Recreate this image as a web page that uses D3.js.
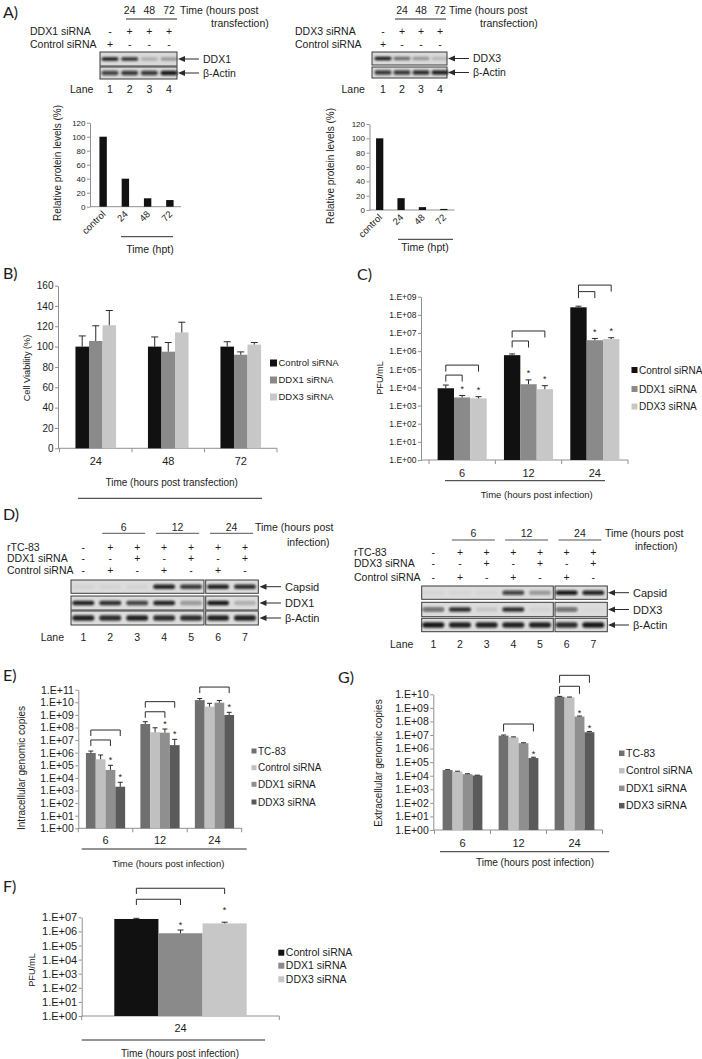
<!DOCTYPE html>
<html><head><meta charset="utf-8">
<script src="https://cdn.jsdelivr.net/npm/d3@7"></script>
<style>
html,body{margin:0;padding:0;background:#fff;}
svg{display:block;}
</style></head><body>
<svg id="fig" width="702" height="1059"></svg>
<script>
// ================= DATA =================
// Panel A
const aCategories = ["control","24","48","72"];
const aTimes = ["24","48","72"];
const aDDX1Levels = [100, 40, 12, 9.5];
const aDDX3Levels = [100, 16.5, 4, 1.5];
const aYTicks = [0,20,40,60,80,100,120];
const aDDX1siRNA = ["-","+","+","+"];
const aControl1 = ["+","-","-","-"];
const aDDX3siRNA = ["-","+","+","+"];
const aControl3 = ["+","-","-","-"];
const aDDX1Bands = [0.95,0.85,0.2,0.3];
const aActin1Bands = [0.75,0.8,0.8,0.95];
const aDDX3Bands = [0.95,0.5,0.3,0.15];
const aActin3Bands = [0.8,0.8,0.85,0.9];
const aLanes = ["1","2","3","4"];

// Panel B
const bGroups = ["24","48","72"];
const siSeries = ["Control siRNA","DDX1 siRNA","DDX3 siRNA"];
const bControl = [100,100,100];
const bDDX1 = [105.5,95,92];
const bDDX3 = [121,114,102];
const bControlErr = [10.5,9.5,4.8];
const bDDX1Err = [15,9,2.8];
const bDDX3Err = [14.5,10,2];
const bYTicks = [0,20,40,60,80,100,120,140,160];

// Panel C
const cGroups = ["6","12","24"];
const cControl = [9e3,6e5,2.6e8];
const cDDX1 = [2.8e3,1.5e4,4e6];
const cDDX3 = [2.5e3,8e3,4.6e6];
const cControlErrTop = [1.35e4,7e5,3e8];
const cDDX1ErrTop = [3.6e3,2.6e4,5e6];
const cDDX3ErrTop = [3.1e3,1.25e4,5.5e6];
const cStars = [[0,0,0],[1,1,1],[1,1,1]];
const cYTicks = [1e0,1e1,1e2,1e3,1e4,1e5,1e6,1e7,1e8,1e9];
const cBrackets = [["6",0,2,5.23],["6",0,1,4.68],["12",0,2,7.11],["12",0,1,6.56],["24",0,2,9.64],["24",0,1,9.28]];

// Panel D
const dTimes = ["6","12","24"];
const dRTC83 = ["-","+","+","+","+","+","+"];
const dDDX1siRNA = ["-","-","+","-","+","-","+"];
const dControl1 = ["-","+","-","+","-","+","-"];
const dDDX3siRNA = ["-","-","+","-","+","-","+"];
const dControl3 = ["-","+","-","+","-","+","-"];
const dLanes = ["1","2","3","4","5","6","7"];
const dCapsid1 = [0.04,0.04,0.04,0.9,0.8,0.9,0.85];
const dDDX1Bands = [0.9,0.85,0.75,0.9,0.3,0.95,0.2];
const dActin1 = [0.9,0.85,0.9,0.85,0.85,0.9,0.9];
const dCapsid3 = [0.03,0.03,0.03,0.75,0.3,0.95,0.9];
const dDDX3Bands = [0.55,0.85,0.1,0.85,0.05,0.55,0.02];
const dActin3 = [0.95,0.9,0.9,0.9,0.9,0.85,0.95];

// Panel E
const egSeries = ["TC-83","Control siRNA","DDX1 siRNA","DDX3 siRNA"];
const eGroups = ["6","12","24"];
const eTC83 = [9.5e5,1.9e8,1.5e10];
const eControl = [3e5,4.2e7,4.5e9];
const eDDX1 = [4.3e4,3.9e7,9.3e9];
const eDDX3 = [2e3,4e6,9.8e8];
const eTC83ErrTop = [1.35e6,2.9e8,2e10];
const eControlErrTop = [6.6e5,9.5e7,8.3e9];
const eDDX1ErrTop = [1e5,7.6e7,1.4e10];
const eDDX3ErrTop = [4.5e3,1.15e7,1.6e9];
const eStars = [[0,0,0],[0,0,0],[1,1,0],[1,1,1]];
const eYTicks = [1e0,1e1,1e2,1e3,1e4,1e5,1e6,1e7,1e8,1e9,1e10,1e11];
const eBrackets = [["6",0,3,7.80],["6",0,2,7.01],["12",0,3,10.05],["12",0,2,9.25],["24",0,3,11.21]];

// Panel G
const gGroups = ["6","12","24"];
const gTC83 = [2.6e4,9e6,6.6e9];
const gControl = [2e4,6.8e6,6e9];
const gDDX1 = [1.3e4,2.5e6,2.3e8];
const gDDX3 = [1.05e4,2e5,1.6e7];
const gTC83ErrTop = [2.8e4,1e7,7e9];
const gControlErrTop = [2.15e4,7.3e6,6.3e9];
const gDDX1ErrTop = [1.4e4,2.7e6,2.5e8];
const gDDX3ErrTop = [1.1e4,2.3e5,1.8e7];
const gStars = [[0,0,0],[0,0,0],[0,0,1],[0,1,1]];
const gYTicks = [1e0,1e1,1e2,1e3,1e4,1e5,1e6,1e7,1e8,1e9,1e10];
const gBrackets = [["12",0,3,7.81],["24",0,3,11.40],["24",0,2,10.59]];

// Panel F
const fGroups = ["24"];
const fControl = [7.6e6];
const fDDX1 = [7.4e5];
const fDDX3 = [3.7e6];
const fControlErrTop = [8.5e6];
const fDDX1ErrTop = [1.25e6];
const fDDX3ErrTop = [4.5e6];
const fStars = [[0],[1],[1]];
const fYTicks = [1e0,1e1,1e2,1e3,1e4,1e5,1e6,1e7];
const fBrackets = [["24",0,2,9.06],["24",0,1,8.28]];

// ================= DRAWING =================
const svg = d3.select("#fig");
const FONT = '"Liberation Sans", Arial, Helvetica, sans-serif';
const LETTER = 'Lato, "Open Sans", sans-serif';
const TXT = "#1c1c1c", AXIS = "#909090", INK = "#2b2b2b";
const BLACK = "#111111", MID = "#8a8a8a", LIGHT = "#c7c7c7";
const E_COLORS = ["#6f6f6f","#c0c0c0","#8f8f8f","#5a5a5a"];
const logFmt = d => "1.E+" + String(Math.round(Math.log10(d))).padStart(2,"0");

const defs = svg.append("defs");
defs.append("filter").attr("id","blur").attr("x","-20%").attr("y","-50%").attr("width","140%").attr("height","200%")
  .append("feGaussianBlur").attr("stdDeviation",0.8);

function txt(x,y,s,size,anchor,fam){
  return svg.append("text").attr("x",x).attr("y",y).text(s).attr("font-size",size)
    .attr("text-anchor",anchor||"start").attr("fill",TXT).attr("font-family",fam||FONT);
}
function line(x1,y1,x2,y2,color,w){
  return svg.append("line").attr("x1",x1).attr("y1",y1).attr("x2",x2).attr("y2",y2)
    .attr("stroke",color||INK).attr("stroke-width",w||1);
}

function barPanel(o){
  const g = svg.append("g");
  const x0 = d3.scaleBand().domain(o.groups).range([o.xl,o.xr]).paddingInner(o.pad).paddingOuter(o.pad/2);
  const x1 = d3.scaleBand().domain(d3.range(o.series.length)).range([0,x0.bandwidth()]);
  const y = (o.log ? d3.scaleLog() : d3.scaleLinear()).domain(o.domain).range([o.yb,o.yt]);
  const ax = o.axisX !== undefined ? o.axisX : o.xl;
  const ya = g.append("g").attr("transform",`translate(${ax},0)`)
    .call(d3.axisLeft(y).tickValues(o.ticks).tickFormat(o.fmt).tickSize(3).tickSizeOuter(0).tickPadding(o.tickPad!==undefined?o.tickPad:1.5));
  ya.attr("font-family",FONT).attr("font-size",o.tickFont);
  ya.select(".domain").attr("stroke",AXIS);
  ya.selectAll(".tick line").attr("stroke",AXIS);
  ya.selectAll(".tick text").attr("fill",TXT);
  g.append("line").attr("x1",ax).attr("x2",o.xr).attr("y1",o.yb).attr("y2",o.yb).attr("stroke",AXIS);
  if(o.catTicks){
    const bounds = d3.range(o.groups.length+1).map(k=>o.xl + k*x0.step());
    g.selectAll(null).data(bounds).join("line").attr("x1",d=>d).attr("x2",d=>d)
      .attr("y1",o.yb).attr("y2",o.yb+4).attr("stroke",AXIS);
  }
  const cx = (gr,si)=>x0(gr)+x1(si)+x1.bandwidth()/2;
  o.series.forEach((s,si)=>{
    g.selectAll(null).data(o.groups).join("rect")
      .attr("x",gr=>x0(gr)+x1(si)).attr("width",x1.bandwidth())
      .attr("y",(gr,gi)=>y(o.values[si][gi])).attr("height",(gr,gi)=>o.yb-y(o.values[si][gi]))
      .attr("fill",o.colors[si]);
    if(o.errTops){
      const cap = o.cap;
      g.selectAll(null).data(o.groups).join("path")
        .attr("d",(gr,gi)=>{const xc=cx(gr,si), yt=y(o.errTops[si][gi]), yv=y(o.values[si][gi]);
          return `M${xc},${yv}V${yt}M${xc-cap},${yt}H${xc+cap}`;})
        .attr("stroke",INK).attr("stroke-width",1).attr("fill","none");
    }
    if(o.stars){
      g.selectAll(null).data(o.groups.filter((gr,gi)=>o.stars[si][gi])).join("text")
        .attr("x",gr=>cx(gr,si))
        .attr("y",gr=>y(o.errTops[si][o.groups.indexOf(gr)]) - (Array.isArray(o.starGap)?o.starGap[si]:o.starGap))
        .attr("text-anchor","middle").attr("font-size",o.starFont||9).attr("font-family",FONT).attr("fill",TXT).text("*");
    }
  });
  if(o.brackets){
    g.selectAll(null).data(o.brackets).join("path")
      .attr("d",b=>{const yt=y(o.log?Math.pow(10,b[3]):b[3]); const xa=cx(b[0],b[1]), xb=cx(b[0],b[2]);
        return `M${xa},${yt+o.drop}V${yt}H${xb}V${yt+o.drop}`;})
      .attr("stroke",INK).attr("stroke-width",1).attr("fill","none");
  }
  // category labels
  if(o.rotLabels){
    g.selectAll(null).data(o.groups).join("text")
      .attr("transform",gr=>`translate(${x0(gr)+x0.bandwidth()/2+3},${o.yb+o.xlabOff}) rotate(-45)`)
      .attr("text-anchor","end").attr("font-size",o.xlabFont).attr("font-family",FONT).attr("fill",TXT).text(d=>d);
  } else {
    g.selectAll(null).data(o.groups).join("text")
      .attr("x",gr=>x0(gr)+x0.bandwidth()/2).attr("y",o.yb+o.xlabOff)
      .attr("text-anchor","middle").attr("font-size",o.xlabFont).attr("font-family",FONT).attr("fill",TXT).text(d=>d);
  }
  if(o.ytitle){
    g.append("text").attr("transform",`translate(${o.ytitle.x},${o.ytitle.y}) rotate(-90)`)
      .attr("dy","0.35em").attr("text-anchor","middle").attr("font-size",o.ytitle.font)
      .attr("font-family",FONT).attr("fill",TXT).text(o.ytitle.text);
  }
  if(o.xtitle){
    g.append("text").attr("x",o.xtitle.x).attr("y",o.xtitle.y).attr("text-anchor","middle")
      .attr("font-size",o.xtitle.font).attr("font-family",FONT).attr("fill",TXT).text(o.xtitle.text);
    if(o.xtitle.line){const L=o.xtitle.line; g.append("line").attr("x1",L[0]).attr("x2",L[1]).attr("y1",L[2]).attr("y2",L[2]).attr("stroke",INK);}
  }
  if(o.legend){
    const L=o.legend;
    o.series.forEach((s,si)=>{
      g.append("rect").attr("x",L.x).attr("y",L.ys[si]-L.sq/2).attr("width",L.sq).attr("height",L.sq).attr("fill",o.colors[si]);
      g.append("text").attr("x",L.x+L.sq+1.5).attr("y",L.ys[si]+0.35*L.font).attr("font-size",L.font)
        .attr("font-family",FONT).attr("fill",TXT).text(s);
    });
  }
  return {x0,x1,y};
}

function blot(lx, segs, rows, bandSets, bw, bhs, bg){
  rows.forEach((r,ri)=>{
    segs.forEach(s=>svg.append("rect").attr("x",s[0]).attr("y",r[0]).attr("width",s[1]-s[0]).attr("height",r[1]-r[0])
      .attr("fill",bg||"#d9d9d9").attr("stroke","#3a3a3a").attr("stroke-width",1));
    const cy=(r[0]+r[1])/2, bh=bhs[ri];
    svg.append("g").attr("filter","url(#blur)").selectAll("rect").data(bandSets[ri]).join("rect")
      .attr("x",(d,i)=>lx(i)-bw/2).attr("y",cy-bh/2).attr("width",bw).attr("height",bh).attr("rx",bh/2)
      .attr("fill","#0c0c0c").attr("opacity",d=>d);
  });
}
function arrow(tip, tail, y){
  line(tail,y,tip+5,y,INK,1);
  svg.append("path").attr("d",`M${tip},${y}L${tip+7},${y-3}L${tip+7},${y+3}Z`).attr("fill",INK);
}
function signRow(lx, arr, y, size){
  arr.forEach((s,i)=>txt(lx(i),y,s,size,"middle"));
}

// ---------- Panel letters ----------
[["A)",3,17.5],["B)",3,279],["C)",357,280],["D)",3,520],["E)",3,681],["G)",338,682.5],["F)",3,891.5]]
  .forEach(p=>txt(p[1],p[2],p[0],16,"start",LETTER));

// ---------- Panel A (left blot) ----------
{
  const lx = d3.scalePoint().domain(d3.range(4)).range([110,169]);
  aTimes.forEach((t,i)=>txt(lx(i+1),14,t,10.5,"middle"));
  line(126,19,177,19,INK,1);
  txt(180,14,"Time (hours post",10.5); txt(211,27,"transfection)",10.5);
  txt(30,35,"DDX1 siRNA",10.5); txt(30,48,"Control siRNA",10.5);
  signRow(lx,aDDX1siRNA,35,10.5); signRow(lx,aControl1,48,10.5);
  blot(lx,[[100,177]],[[52,66],[67,79]],[aDDX1Bands,aActin1Bands],17,[3.5,4.5]);
  arrow(178,199,59); arrow(178,199,73);
  txt(203,62.5,"DDX1",10.5); txt(203,76.5,"β-Actin",10.5);
  txt(70,93,"Lane",10.5);
  aLanes.forEach((l,i)=>txt(lx(i),93,l,10.5,"middle"));
}
// ---------- Panel A (right blot) ----------
{
  const lx = d3.scalePoint().domain(d3.range(4)).range([383,440]);
  aTimes.forEach((t,i)=>txt(lx(i+1),14,t,10.5,"middle"));
  line(395,19,446,19,INK,1);
  txt(449,14,"Time (hours post",10.5); txt(480,27,"transfection)",10.5);
  txt(295,35,"DDX3 siRNA",10.5); txt(295,48,"Control siRNA",10.5);
  signRow(lx,aDDX3siRNA,35,10.5); signRow(lx,aControl3,48,10.5);
  blot(lx,[[372,447]],[[52,65],[67,78]],[aDDX3Bands,aActin3Bands],17,[3.5,4.5]);
  arrow(448,469,58.5); arrow(448,469,72.5);
  txt(473,62,"DDX3",10.5); txt(473,76,"β-Actin",10.5);
  txt(341.5,93,"Lane",10.5);
  aLanes.forEach((l,i)=>txt(lx(i),93,l,10.5,"middle"));
}
// A charts
barPanel({groups:aCategories,series:["level"],values:[aDDX1Levels],colors:[BLACK],
  xl:92,xr:181,axisX:90,pad:0.667,yb:206.7,yt:122.7,domain:[0,120],ticks:aYTicks,fmt:d3.format("d"),tickFont:8,
  rotLabels:true,xlabOff:8,xlabFont:9.5,
  ytitle:{text:"Relative protein levels (%)",x:57,y:163,font:10},
  xtitle:{text:"Time (hpt)",x:150,y:252.5,font:10.5,line:[121,173,236.7]}});
barPanel({groups:aCategories,series:["level"],values:[aDDX3Levels],colors:[BLACK],
  xl:369,xr:454.5,axisX:369.5,pad:0.66,yb:210,yt:124,domain:[0,120],ticks:aYTicks,fmt:d3.format("d"),tickFont:8,
  rotLabels:true,xlabOff:8,xlabFont:9.5,
  ytitle:{text:"Relative protein levels (%)",x:330,y:166,font:10},
  xtitle:{text:"Time (hpt)",x:425,y:250.5,font:10.5,line:[398,453,239.3]}});

// ---------- Panel B ----------
barPanel({groups:bGroups,series:siSeries,values:[bControl,bDDX1,bDDX3],colors:[BLACK,MID,LIGHT],
  errTops:[bControl.map((v,i)=>v+bControlErr[i]),bDDX1.map((v,i)=>v+bDDX1Err[i]),bDDX3.map((v,i)=>v+bDDX3Err[i])],cap:3.5,
  xl:59.5,xr:277,axisX:58,pad:0.44,yb:448.3,yt:285.6,domain:[0,160],ticks:bYTicks,fmt:d3.format("d"),tickFont:10,catTicks:true,
  xlabOff:16.5,xlabFont:11,
  ytitle:{text:"Cell Viability (%)",x:27,y:368,font:9.2},
  xtitle:{text:"Time (hours post transfection)",x:171.7,y:486,font:10,line:[78,262,498.3]},
  legend:{x:270,ys:[363,380,397],sq:7,font:9.5}});

// ---------- Panel C ----------
barPanel({groups:cGroups,series:siSeries,values:[cControl,cDDX1,cDDX3],colors:[BLACK,MID,LIGHT],
  errTops:[cControlErrTop,cDDX1ErrTop,cDDX3ErrTop],cap:3,stars:cStars,starGap:3.5,starFont:9,
  brackets:cBrackets,drop:6.5,log:true,
  xl:429,xr:628,axisX:421,pad:0.26,yb:460,yt:296.7,domain:[1,1e9],ticks:cYTicks,fmt:logFmt,tickFont:8.5,catTicks:true,
  xlabOff:16.5,xlabFont:11,
  ytitle:{text:"PFU/mL",x:380,y:378,font:9.2},
  xtitle:{text:"Time (hours post infection)",x:536.7,y:497.5,font:9.5,line:[445,605,480.7]},
  legend:{x:631.5,ys:[370,389,406.5],sq:6,font:10}});

// ---------- Panel D (left) ----------
{
  const lx = d3.scalePoint().domain(d3.range(7)).range([83.3,245]);
  dTimes.forEach((t,i)=>{const c=(lx(2*i+1)+lx(2*i+2))/2; txt(c,530.5,t,10.5,"middle"); line(c-21.5,533.3,c+21.5,533.3,"#555",1);});
  txt(255,530.5,"Time (hours post",10.5); txt(287,545.5,"infection)",10.5);
  txt(7,550.5,"rTC-83",10.5); txt(7,561.5,"DDX1 siRNA",10.5); txt(7,574,"Control siRNA",10.5);
  signRow(lx,dRTC83,550.5,10.5); signRow(lx,dDDX1siRNA,561.5,10.5); signRow(lx,dControl1,574,10.5);
  blot(lx,[[71,204],[205.7,258.3]],[[580,593.3],[596,610],[611,625]],[dCapsid1,dDDX1Bands,dActin1],22,[4.5,4.5,5.5],"#dcdcdc");
  arrow(259.5,281,586.7); arrow(259.5,281,603); arrow(259.5,281,618);
  txt(285,590.7,"Capsid",11); txt(285,607,"DDX1",11); txt(285,622,"β-Actin",11);
  txt(40.7,640.5,"Lane",10.5);
  dLanes.forEach((l,i)=>txt(lx(i),640.5,l,10.5,"middle"));
}
// ---------- Panel D (right) ----------
{
  const lx = d3.scalePoint().domain(d3.range(7)).range([433.3,593.3]);
  dTimes.forEach((t,i)=>{const c=(lx(2*i+1)+lx(2*i+2))/2; txt(c,536.5,t,10.5,"middle"); line(c-21.5,540,c+21.5,540,"#555",1);});
  txt(605,536.5,"Time (hours post",10.5); txt(635,549.5,"infection)",10.5);
  txt(354,555.5,"rTC-83",10.5); txt(354,567,"DDX3 siRNA",10.5); txt(354,580.5,"Control siRNA",10.5);
  signRow(lx,dRTC83,555.5,10.5); signRow(lx,dDDX3siRNA,567,10.5); signRow(lx,dControl3,580.5,10.5);
  blot(lx,[[421.7,553.3],[555,607.3]],[[586,599.3],[602.3,616.7],[618.3,631.7]],[dCapsid3,dDDX3Bands,dActin3],22,[4.5,4.5,5.5],"#dcdcdc");
  arrow(608,629,592.7); arrow(608,629,609.5); arrow(608,629,625);
  txt(633,596.7,"Capsid",11); txt(633,613.5,"DDX3",11); txt(633,629,"β-Actin",11);
  txt(390,647.5,"Lane",10.5);
  dLanes.forEach((l,i)=>txt(lx(i),647.5,l,10.5,"middle"));
}

// ---------- Panel E ----------
barPanel({groups:eGroups,series:egSeries,values:[eTC83,eControl,eDDX1,eDDX3],colors:E_COLORS,
  errTops:[eTC83ErrTop,eControlErrTop,eDDX1ErrTop,eDDX3ErrTop],cap:2.5,stars:eStars,starGap:2,starFont:9,
  brackets:eBrackets,drop:6,log:true,
  xl:78.3,xr:241.7,pad:0.28,yb:828.3,yt:689.7,domain:[1,1e11],ticks:eYTicks,fmt:logFmt,tickFont:10.5,catTicks:true,
  xlabOff:15.5,xlabFont:11,
  ytitle:{text:"Intracellular genomic copies",x:21.7,y:768,font:10},
  xtitle:{text:"Time (hours post infection)",x:168.3,y:866.8,font:9.5,line:[81.7,246.7,849]},
  legend:{x:251.5,ys:[751,767.7,784.3,802],sq:5,font:10}});

// ---------- Panel G ----------
barPanel({groups:gGroups,series:egSeries,values:[gTC83,gControl,gDDX1,gDDX3],colors:E_COLORS,
  errTops:[gTC83ErrTop,gControlErrTop,gDDX1ErrTop,gDDX3ErrTop],cap:2.5,stars:gStars,starGap:0.5,starFont:9,
  brackets:gBrackets,drop:7.5,log:true,
  xl:434.5,xr:602.5,axisX:433.3,pad:0.29,yb:830,yt:694.3,domain:[1,1e10],ticks:gYTicks,fmt:logFmt,tickFont:10.5,catTicks:true,
  xlabOff:16.5,xlabFont:11,
  ytitle:{text:"Extracellular genomic copies",x:378.3,y:763,font:10},
  xtitle:{text:"Time (hours post infection)",x:535,y:865.8,font:10,line:[440,609.3,851.7]},
  legend:{x:619,ys:[753.3,770.7,788.3,805.7],sq:5.5,font:10.5}});

// ---------- Panel F ----------
barPanel({groups:fGroups,series:siSeries,values:[fControl,fDDX1,fDDX3],colors:[BLACK,MID,LIGHT],
  errTops:[fControlErrTop,fDDX1ErrTop,fDDX3ErrTop],cap:3,stars:fStars,starGap:[0,2,9],starFont:9,
  brackets:fBrackets,drop:5.7,log:true,
  xl:81.7,xr:279.3,pad:0.33,yb:1016,yt:917.3,domain:[1,1e7],ticks:fYTicks,fmt:logFmt,tickFont:11,catTicks:true,
  xlabOff:16,xlabFont:11,
  ytitle:{text:"PFU/mL",x:31.7,y:970,font:9.2},
  xtitle:{text:"Time (hours post infection)",x:180,y:1056.5,font:10,line:[81.7,265,1040]},
  legend:{x:278.3,ys:[952.7,965.7,979.3],sq:6,font:10.5}});
</script>
</body></html>
